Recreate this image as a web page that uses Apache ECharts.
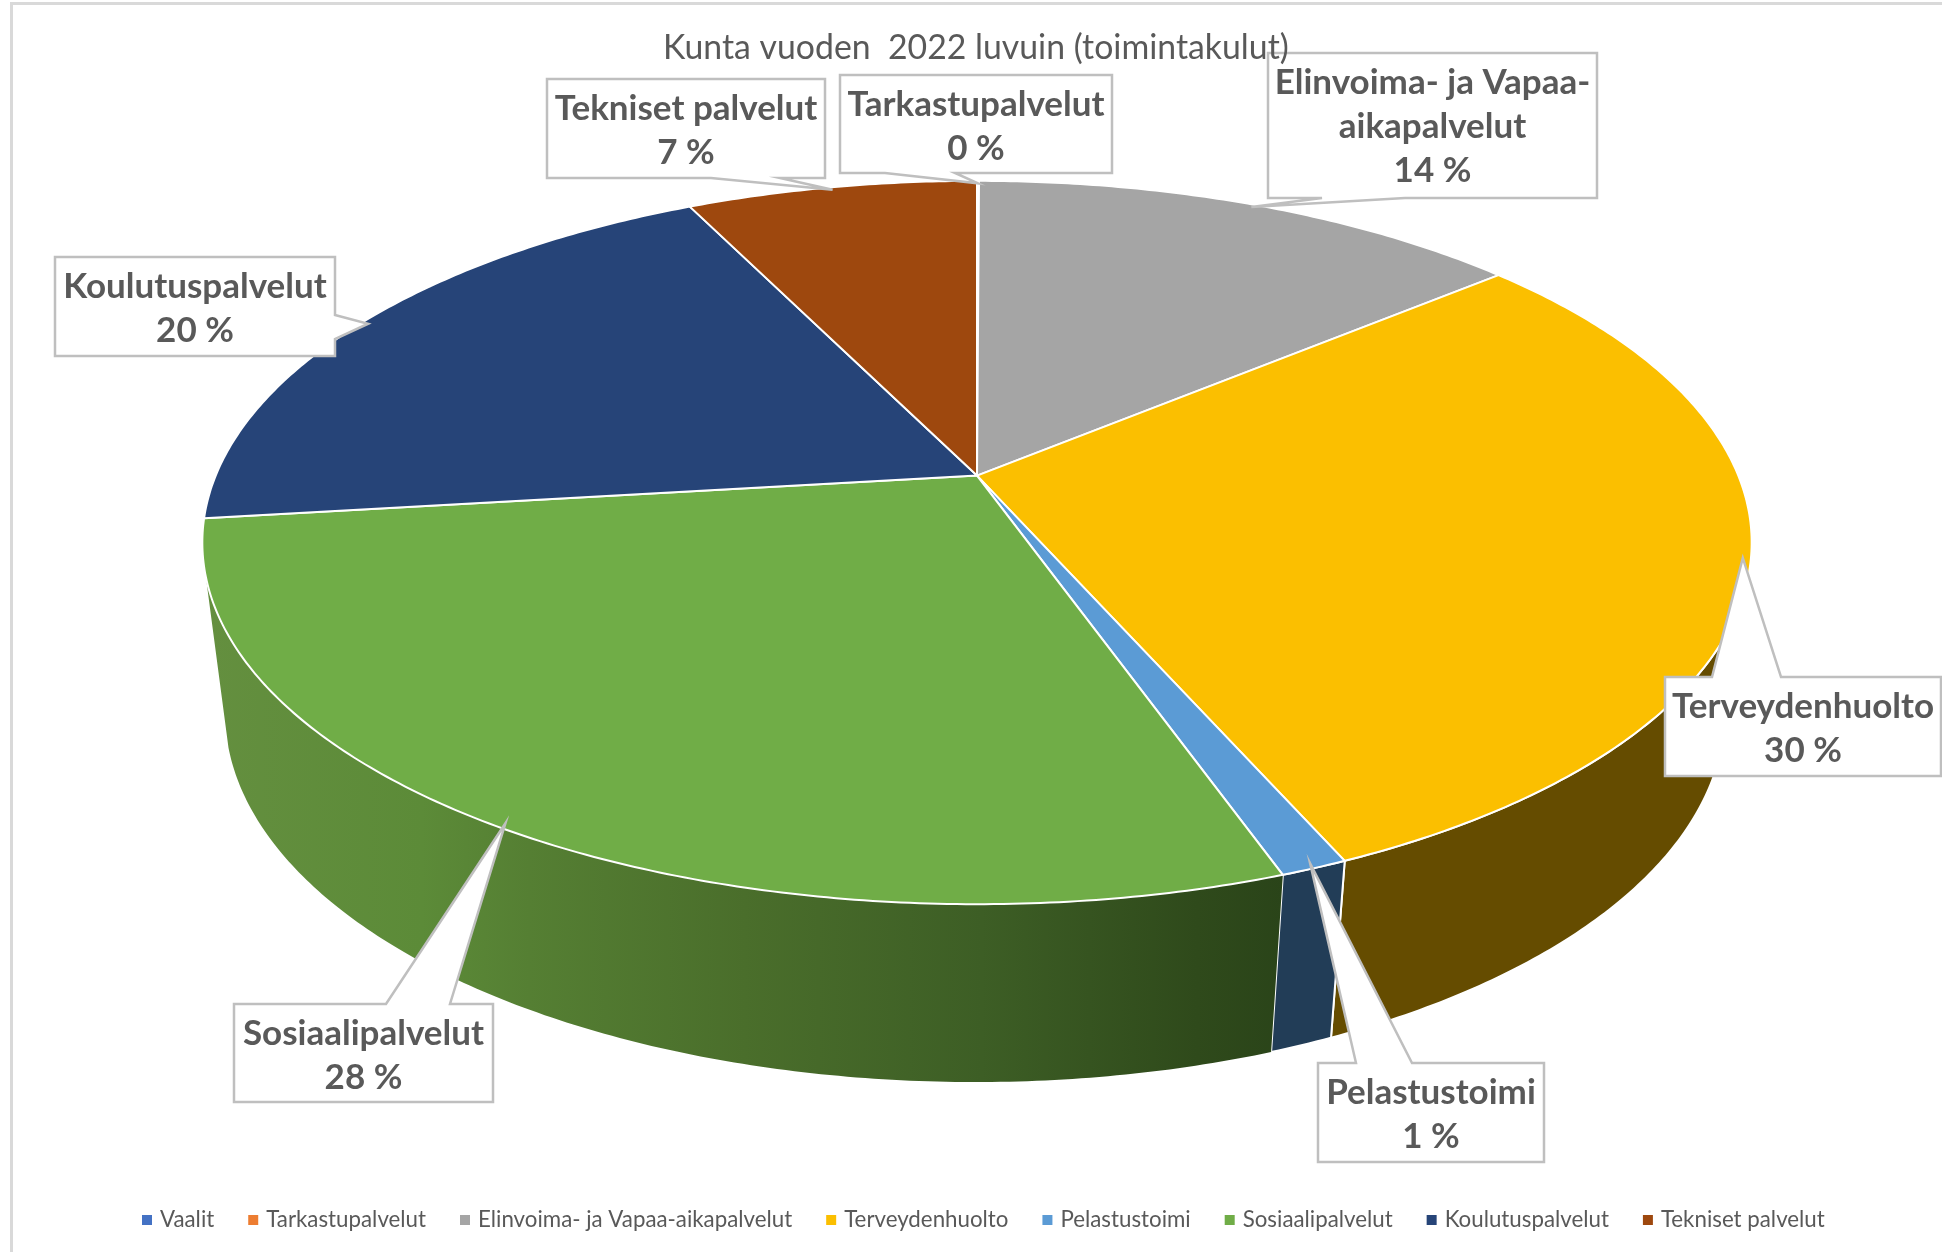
<!DOCTYPE html>
<html>
<head>
<meta charset="utf-8">
<style>html,body{margin:0;padding:0;background:#fff}#c{width:1942px;height:1252px}</style>
<script src="https://cdn.jsdelivr.net/npm/echarts@6/dist/echarts.min.js"></script>
</head>
<body>
<div id="c"></div>
<script>
var categories = ['Vaalit','Tarkastupalvelut','Elinvoima- ja Vapaa-aikapalvelut','Terveydenhuolto','Pelastustoimi','Sosiaalipalvelut','Koulutuspalvelut','Tekniset palvelut'];
var values = [0, 0.05, 13.85, 29.53, 1.19, 28.48, 19.65, 7.25];
var labelLines = [[], ['Tarkastupalvelut'], ['Elinvoima- ja Vapaa-','aikapalvelut'], ['Terveydenhuolto'], ['Pelastustoimi'], ['Sosiaalipalvelut'], ['Koulutuspalvelut'], ['Tekniset palvelut']];
var titleText = 'Kunta vuoden  2022 luvuin (toimintakulut)';

var topColors = ['#4472c4','#ed7d31','#a5a5a5','#fbbf00','#5b9bd5','#70ad47','#264478','#9e480e'];
var wallColors = ['#2b4475','#8f4b1d','#636363','#654c00','#223d57','#43682b','#172948','#5f2b08'];

// callout boxes: [left, top, right, bottom], pointer side, pointer base range on that side
var callouts = [
  null,
  {box:[840,75,1112,173], side:'bottom', base:[885,955]},
  {box:[1268,53,1597,198], side:'bottom', base:[1322,1405]},
  {box:[1665,677,1941,776], side:'top', base:[1712,1781]},
  {box:[1318,1063,1544,1162], side:'top', base:[1356,1412]},
  {box:[234,1004,493,1102], side:'top', base:[386,450]},
  {box:[55,257,335,356], side:'right', base:[315,339]},
  {box:[547,79,825,178], side:'bottom', base:[711,780]}
];

var total = values.reduce(function(a,b){return a+b;},0);
var cum = [0];
values.forEach(function(v,i){cum.push(cum[i]+v);});

var upper = {cx:977, cy:475.6, rx:761.3, ry:349.3, k:0.185};
var lower = {cx:975, cy:644, rx:737, ry:357, k:0.185};
var wallFrom = 107*Math.PI/180, wallTo = 254*Math.PI/180;

function project(e,t,r){
  var s=Math.sin(t), c=Math.cos(t), d=1+e.k*r*c;
  return [e.cx+e.rx*r*s/d, e.cy-e.ry*r*c/d];
}
function arc(e,t0,t1){
  var n=Math.max(2,Math.ceil(Math.abs(t1-t0)/0.01)), pts=[];
  for(var i=0;i<=n;i++){pts.push(project(e,t0+(t1-t0)*i/n,1));}
  return pts;
}
var wallGradient = new echarts.graphic.LinearGradient(206,0,1283,0,[
  {offset:0,color:'#648f3f'},{offset:0.2,color:'#5c8b38'},{offset:0.3,color:'#557f33'},
  {offset:0.5,color:'#4a6e2b'},{offset:0.72,color:'#3d5e25'},{offset:0.92,color:'#2f4a1b'},{offset:1,color:'#2a4419'}
],true);

function renderSlice(i){
  return function(params,api){
    var v=api.value(0), children=[];
    if(!(v>0)) return {type:'group',children:[]};
    var t0=2*Math.PI*cum[i]/total, t1=2*Math.PI*cum[i+1]/total, tm=(t0+t1)/2;
    var a=Math.max(t0,wallFrom), b=Math.min(t1,wallTo);
    if(b>a){
      var up=arc(upper,a,b), lo=arc(lower,a,b).reverse();
      children.push({type:'polygon',z2:1,shape:{points:up.concat(lo)},
        style:{fill:i===5?wallGradient:wallColors[i],stroke:i===5?null:'#ffffff',lineWidth:i===5?0:2}});
    }
    var pts=[project(upper,0,0)].concat(arc(upper,t0,t1));
    children.push({type:'polygon',z2:2,shape:{points:pts},style:{fill:topColors[i],stroke:'#ffffff',lineWidth:2,lineJoin:'round'}});
    var cfg=callouts[i];
    if(cfg){
      var q=cfg.box,l=q[0],tp=q[1],r=q[2],bt=q[3],tip=project(upper,tm,0.99),g=cfg.base,poly;
      if(cfg.side==='bottom') poly=[[l,tp],[r,tp],[r,bt],[g[1],bt],tip,[g[0],bt],[l,bt]];
      if(cfg.side==='top') poly=[[l,tp],[g[0],tp],tip,[g[1],tp],[r,tp],[r,bt],[l,bt]];
      if(cfg.side==='right') poly=[[l,tp],[r,tp],[r,g[0]],tip,[r,g[1]],[r,bt],[l,bt]];
      children.push({type:'polygon',z2:3,shape:{points:poly},style:{fill:'#ffffff',stroke:'#bfbfbf',lineWidth:2.5,lineJoin:'miter'}});
      var lines=labelLines[i].concat([Math.round(v)+' %']);
      lines.forEach(function(s,j){
        children.push({type:'text',z2:4,style:{text:s,x:(l+r)/2,y:tp+29.5+j*44,align:'center',verticalAlign:'middle',
          font:'bold 35px Lato',fill:'#595959'}});
      });
    }
    return {type:'group',children:children};
  };
}

var series = categories.map(function(name,i){
  return {type:'custom',name:name,coordinateSystem:'none',silent:true,animation:false,
    itemStyle:{color:topColors[i]},data:[[values[i]]],renderItem:renderSlice(i)};
});

var chart = echarts.init(document.getElementById('c'),null,{renderer:'canvas'});
chart.setOption({
  animation:false,
  backgroundColor:'#ffffff',
  title:{text:titleText,left:658,top:26,textStyle:{fontFamily:'Lato',fontWeight:'normal',fontSize:33.8,color:'#595959'}},
  legend:{show:true,data:categories,left:137,top:1204,itemWidth:10,itemHeight:10,itemGap:34,icon:'rect',
    selectedMode:false,textStyle:{fontFamily:'Lato',fontSize:22.3,color:'#595959',padding:[0,0,0,3]}},
  graphic:[{type:'polyline',z:-1,shape:{points:[[11.5,1252],[11.5,3.5],[1942,3.5]]},style:{stroke:'#d9d9d9',lineWidth:3,fill:null}}],
  series:series
});
</script>
</body>
</html>
